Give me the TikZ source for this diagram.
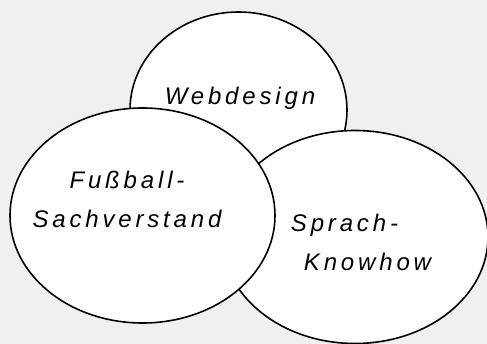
\documentclass[tikz,border=0pt]{standalone}
\usepackage{fontspec}
\setmainfont{Liberation Sans}
\usetikzlibrary{shapes.geometric}
\definecolor{hgrund}{HTML}{F0F0F0}

\begin{document}
\begin{tikzpicture}[x=1pt,y=-1pt,
    kreis/.style={ellipse,draw=black,fill=white,line width=1.6pt,inner sep=0pt},
    schrift/.style={font=\fontsize{24}{39}\selectfont\itshape\addfontfeature{LetterSpace=16}}]
    % Hintergrund
    \fill[hgrund] (0,0) rectangle (487,344);
    \clip (0,0) rectangle (487,344);

    % Kreise (Reihenfolge = Ueberdeckung)
    \node[kreis,minimum width=217pt,minimum height=196pt] (web) at (238.5,110) {};
    \node[kreis,minimum width=266pt,minimum height=213pt] (sprach) at (355,237) {};
    \node[kreis,minimum width=265pt,minimum height=215pt] (fussball) at (142.5,215.5) {};

    % Beschriftungen
    \node[schrift] (webtxt) at (240,98) {Webdesign};
    \node[schrift,align=center] (fussballtxt) at (127,199) {Fußball-\\Sachverstand};
    \node[schrift,align=left] (sprachtxt) at (361,242) {Sprach-\\\hspace{13pt}Knowhow};
\end{tikzpicture}
\end{document}
